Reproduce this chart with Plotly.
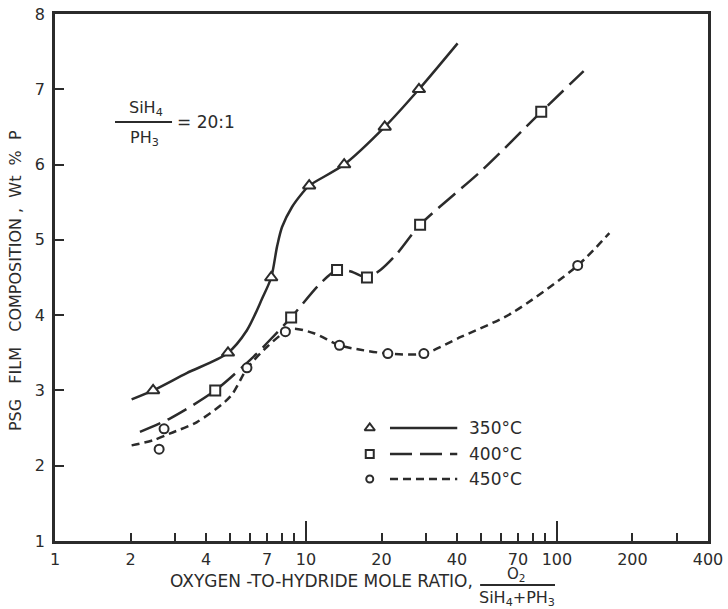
import plotly.graph_objects as go

# ---- measured data points (markers) ----
x350 = [2.46, 4.89, 7.27, 10.3, 14.2, 20.6, 28.2]
y350 = [3.0, 3.5, 4.5, 5.72, 6.0, 6.5, 7.0]

x400 = [4.35, 8.73, 13.3, 17.5, 28.5, 86.6]
y400 = [3.0, 3.97, 4.6, 4.5, 5.2, 6.7]

x450 = [2.60, 2.72, 5.82, 8.28, 13.6, 21.2, 29.5, 121]
y450 = [2.22, 2.49, 3.30, 3.78, 3.60, 3.49, 3.49, 4.66]

# ---- hand-drawn fitted curves ----
cx350 = [2.02, 2.46, 3.35, 4.85, 5.82, 6.69, 7.27, 7.67, 8.03, 8.81, 9.66, 10.3, 14.2, 20.6, 28.2, 40.2]
cy350 = [2.88, 3.0, 3.23, 3.49, 3.80, 4.22, 4.5, 4.91, 5.17, 5.44, 5.62, 5.72, 6.0, 6.5, 7.0, 7.61]

cx400 = [2.18, 2.88, 4.35, 6.19, 7.0, 8.73, 11.4, 13.3, 15.1, 17.5, 19.8, 23.1, 28.5, 50.5, 86.6, 127.8]
cy400 = [2.45, 2.63, 3.0, 3.45, 3.63, 3.97, 4.42, 4.6, 4.58, 4.5, 4.6, 4.82, 5.2, 5.93, 6.7, 7.24]

cx450 = [2.02, 2.47, 2.88, 3.68, 5.0, 5.82, 7.0, 8.28, 8.96, 10.75, 13.6, 16.5, 21.2, 29.5, 41.4, 65.5, 121, 161.8]
cy450 = [2.27, 2.34, 2.43, 2.58, 2.92, 3.29, 3.58, 3.78, 3.82, 3.76, 3.60, 3.54, 3.49, 3.49, 3.71, 4.02, 4.66, 5.09]

series_names = ["350°C", "400°C", "450°C"]

x_tick_vals = [1, 2, 4, 7, 10, 20, 40, 70, 100, 200, 400]
x_tick_text = ["1", "2", "4", "7", "10", "20", "40", "70", "100", "200", "400"]
x_minor_vals = [3, 5, 6, 8, 9, 30, 50, 60, 80, 90, 300]
x_decade_vals = [10, 100]
y_tick_vals = [1, 2, 3, 4, 5, 6, 7, 8]

INK = "#2b2b2b"
FONT = "DejaVu Sans"

fig = go.Figure()

styles = [
    dict(dash="solid", symbol="triangle-up", size=11),
    dict(dash="22px,8px", symbol="square", size=10),
    dict(dash="8px,5px", symbol="circle", size=9),
]
curves = [(cx350, cy350), (cx400, cy400), (cx450, cy450)]
points = [(x350, y350), (x400, y400), (x450, y450)]

for (cx, cy), st in zip(curves, styles):
    fig.add_trace(go.Scatter(
        x=cx, y=cy, mode="lines", line=dict(color=INK, width=2.5, dash=st["dash"], shape="spline", smoothing=0.8),
        showlegend=False, hoverinfo="skip"))

for (px, py), st, nm in zip(points, styles, series_names):
    fig.add_trace(go.Scatter(
        x=px, y=py, mode="markers", name=nm,
        marker=dict(symbol=st["symbol"], size=st["size"], color="white", line=dict(color=INK, width=2)),
        showlegend=False))

# ---- custom legend (marker, then line, then label) on an overlay [0,1] axis ----
leg_y = [0.2144, 0.165, 0.1176]
for st, nm, ly in zip(styles, series_names, leg_y):
    fig.add_trace(go.Scatter(
        x=[0.513, 0.616], y=[ly, ly], mode="lines", xaxis="x2", yaxis="y2",
        line=dict(color=INK, width=2.5, dash=st["dash"]), showlegend=False, hoverinfo="skip"))
    fig.add_trace(go.Scatter(
        x=[0.482], y=[ly], mode="markers", xaxis="x2", yaxis="y2",
        marker=dict(symbol=st["symbol"], size=st["size"] - 2, color="white", line=dict(color=INK, width=2)),
        showlegend=False, hoverinfo="skip"))
    fig.add_annotation(x=0.631, y=ly, xref="x2", yref="y2", text=nm, showarrow=False,
                       xanchor="left", yanchor="middle", font=dict(family=FONT, size=17, color=INK))

fig.update_layout(
    width=728, height=609,
    margin=dict(l=55, r=20, t=14, b=68, autoexpand=False),
    paper_bgcolor="white", plot_bgcolor="white",
    font=dict(family=FONT, color=INK, size=16),
    xaxis=dict(
        type="log", range=[0, 2.60206], showgrid=False, zeroline=False, automargin=False,
        showline=True, linecolor=INK, linewidth=2.5, mirror=True,
        tickvals=x_tick_vals, ticktext=x_tick_text, ticks="inside", ticklen=8, tickwidth=2, tickcolor=INK,
        ticklabelstandoff=2, tickfont=dict(size=16), ticklabeloverflow="allow",
        minor=dict(tickvals=x_minor_vals, ticks="inside", ticklen=8, tickwidth=2, tickcolor=INK, showgrid=False),
    ),
    xaxis3=dict(
        type="log", range=[0, 2.60206], overlaying="x", anchor="y", showgrid=False, zeroline=False,
        showline=False, tickvals=x_decade_vals, ticks="inside", ticklen=20, tickwidth=2, tickcolor=INK,
        showticklabels=False, automargin=False,
    ),
    yaxis=dict(
        range=[1, 8], showgrid=False, zeroline=False, automargin=False,
        showline=True, linecolor=INK, linewidth=2.5, mirror=True,
        tickvals=y_tick_vals, ticks="inside", ticklen=9, tickwidth=2, tickcolor=INK,
        ticklabelstandoff=4, tickfont=dict(size=16), ticklabeloverflow="allow",
    ),
    xaxis2=dict(range=[0, 1], overlaying="x", visible=False, anchor="y2", automargin=False),
    yaxis2=dict(range=[0, 1], overlaying="y", visible=False, anchor="x2", automargin=False),
)

# invisible trace so the decade-tick overlay axis is rendered
fig.add_trace(go.Scatter(x=[10], y=[1], xaxis="x3", yaxis="y", mode="markers",
                         marker=dict(opacity=0), showlegend=False, hoverinfo="skip"))

# ---- axis titles as annotations ----
fig.add_annotation(x=-0.0613, y=0.495, xref="paper", yref="paper", textangle=-90,
                   text="PSG   FILM   COMPOSITION ,  Wt  %  P", showarrow=False,
                   font=dict(family=FONT, size=16, color=INK), xanchor="center", yanchor="middle")

fig.add_annotation(x=0.643, y=-0.0759, xref="paper", yref="paper",
                   text="OXYGEN -TO-HYDRIDE MOLE RATIO,", showarrow=False,
                   font=dict(family=FONT, size=17, color=INK), xanchor="right", yanchor="middle")
fig.add_annotation(x=0.7075, y=-0.0636, xref="paper", yref="paper", text="O<sub>2</sub>", showarrow=False,
                   font=dict(family=FONT, size=15, color=INK), xanchor="center", yanchor="middle")
fig.add_shape(type="line", xref="paper", yref="paper", x0=0.651, x1=0.7657, y0=-0.0835, y1=-0.0835,
              line=dict(color=INK, width=2))
fig.add_annotation(x=0.7075, y=-0.1082, xref="paper", yref="paper",
                   text="SiH<sub>4</sub>+PH<sub>3</sub>", showarrow=False,
                   font=dict(family=FONT, size=16, color=INK), xanchor="center", yanchor="middle")

# ---- SiH4/PH3 ratio note ----
fig.add_annotation(x=0.139, y=0.8216, xref="paper", yref="paper", text="SiH<sub>4</sub>", showarrow=False,
                   font=dict(family=FONT, size=16, color=INK), xanchor="center", yanchor="middle")
fig.add_shape(type="line", xref="paper", yref="paper", x0=0.0919, x1=0.1792, y0=0.7951, y1=0.7951,
              line=dict(color=INK, width=2))
fig.add_annotation(x=0.1363, y=0.7647, xref="paper", yref="paper", text="PH<sub>3</sub>", showarrow=False,
                   font=dict(family=FONT, size=16, color=INK), xanchor="center", yanchor="middle")
fig.add_annotation(x=0.1838, y=0.7951, xref="paper", yref="paper", text="= 20:1", showarrow=False,
                   font=dict(family=FONT, size=17, color=INK), xanchor="left", yanchor="middle")

# remove the browser's default 8px body margin so the figure fills the window exactly
fig.write_html("out.html", config={"displayModeBar": False},
               post_script="document.body.style.margin='0';document.body.style.overflow='hidden';")
